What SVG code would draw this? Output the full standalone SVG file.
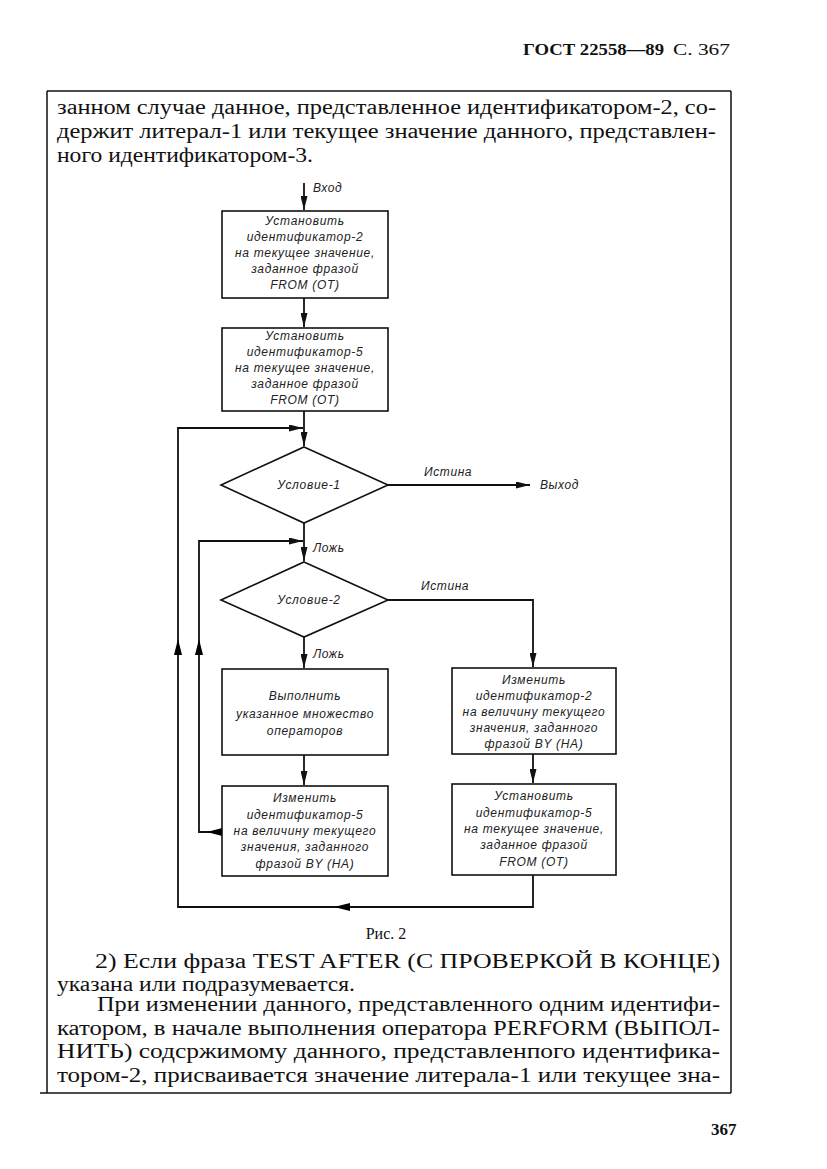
<svg xmlns="http://www.w3.org/2000/svg" width="827" height="1169" viewBox="0 0 827 1169">
<defs>
<marker id="ah" viewBox="0 0 14 7" refX="14" refY="3.5" markerWidth="14" markerHeight="7" markerUnits="userSpaceOnUse" orient="auto">
<path d="M0,0 L14,3.5 L0,7 z" fill="#111"/>
</marker>
</defs>
<style>
.pg{font-family:"Liberation Serif",serif;fill:#111}
.fc{font-family:"Liberation Sans","DejaVu Sans",sans-serif;font-style:italic;font-size:12px;letter-spacing:0.7px;fill:#222;text-anchor:middle}
.lb{font-family:"Liberation Sans","DejaVu Sans",sans-serif;font-style:italic;font-size:12px;letter-spacing:0.6px;fill:#222}
.box{fill:#fff;stroke:#111;stroke-width:1.6}
.ln{fill:none;stroke:#111;stroke-width:1.8}
.fr{fill:none;stroke:#111;stroke-width:1.5}
.hd{fill:#000}
</style>
<rect width="827" height="1169" fill="#fff"/>
<!-- header -->
<text class="pg" x="523" y="55" font-size="17" font-weight="bold" textLength="141" lengthAdjust="spacingAndGlyphs">ГОСТ 22558—89</text>
<text class="pg" x="673" y="55" font-size="17" textLength="57" lengthAdjust="spacingAndGlyphs">С. 367</text>
<!-- frame -->
<path class="fr" d="M47,91 H731 M47,91 V1093 M731,91 V1093 M40,1093 H731"/>
<!-- top text -->
<g class="pg" font-size="20">
<text x="57" y="114" textLength="659" lengthAdjust="spacingAndGlyphs">занном случае данное, представленное идентификатором-2,  со-</text>
<text x="57" y="138" textLength="659" lengthAdjust="spacingAndGlyphs">держит литерал-1 или текущее значение данного, представлен-</text>
<text x="57" y="162" textLength="256" lengthAdjust="spacingAndGlyphs">ного идентификатором-3.</text>
</g>
<!-- connectors -->
<g id="connectors">
<path class="ln" d="M304,183 V210" marker-end="url(#ah)"/>
<path class="ln" d="M304,298 V327" marker-end="url(#ah)"/>
<path class="ln" d="M304,411 V446" marker-end="url(#ah)"/>
<path class="ln" d="M388,485 H530" marker-end="url(#ah)"/>
<path class="ln" d="M304,523 V561" marker-end="url(#ah)"/>
<path class="ln" d="M388,600 H533 V667" marker-end="url(#ah)"/>
<path class="ln" d="M304,637 V668" marker-end="url(#ah)"/>
<path class="ln" d="M304,755 V785" marker-end="url(#ah)"/>
<path class="ln" d="M533,754 V783" marker-end="url(#ah)"/>
<!-- inner loop -->
<path class="ln" d="M222,832 H199 V541 H303" marker-end="url(#ah)"/>
<polygon class="hd" points="207,832 222,828 222,836"/>
<polygon class="hd" points="199,639 195,655 203,655"/>
<!-- outer loop -->
<path class="ln" d="M533,875 V907 H178 V428 H303" marker-end="url(#ah)"/>
<polygon class="hd" points="334,907 350,903 350,911"/>
<polygon class="hd" points="178,639 174,655 182,655"/>
<text class="lb" x="313" y="192">Вход</text>
<text class="lb" x="424" y="476">Истина</text>
<text class="lb" x="540" y="489">Выход</text>
<text class="lb" x="313" y="552">Ложь</text>
<text class="lb" x="421" y="590">Истина</text>
<text class="lb" x="313" y="658">Ложь</text>
</g>
<g id="box1">
<rect class="box" x="222" y="211" width="166" height="87"/>
<text class="fc" x="305" y="225">Установить</text>
<text class="fc" x="305" y="241">идентификатор-2</text>
<text class="fc" x="305" y="257">на текущее значение,</text>
<text class="fc" x="305" y="273">заданное фразой</text>
<text class="fc" x="305" y="289">FROM (ОТ)</text>
</g>
<g id="box2">
<rect class="box" x="222" y="328" width="166" height="83"/>
<text class="fc" x="305" y="340">Установить</text>
<text class="fc" x="305" y="356">идентификатор-5</text>
<text class="fc" x="305" y="372">на текущее значение,</text>
<text class="fc" x="305" y="388">заданное фразой</text>
<text class="fc" x="305" y="404">FROM (ОТ)</text>
</g>
<g id="cond1">
<path class="box" d="M304,447 L388,485 L304,523 L221,485 Z"/>
<text class="fc" x="309" y="489">Условие-1</text>
</g>
<g id="cond2">
<path class="box" d="M304,562 L388,600 L304,637 L221,600 Z"/>
<text class="fc" x="309" y="604">Условие-2</text>
</g>
<g id="box3">
<rect class="box" x="222" y="669" width="166" height="86"/>
<text class="fc" x="305" y="700">Выполнить</text>
<text class="fc" x="305" y="718">указанное множество</text>
<text class="fc" x="305" y="735">операторов</text>
</g>
<g id="box4">
<rect class="box" x="452" y="668" width="164" height="86"/>
<text class="fc" x="534" y="684">Изменить</text>
<text class="fc" x="534" y="700">идентификатор-2</text>
<text class="fc" x="534" y="716">на величину текущего</text>
<text class="fc" x="534" y="732">значения, заданного</text>
<text class="fc" x="534" y="748">фразой BY (НА)</text>
</g>
<g id="box5">
<rect class="box" x="222" y="786" width="166" height="90"/>
<text class="fc" x="305" y="802">Изменить</text>
<text class="fc" x="305" y="819">идентификатор-5</text>
<text class="fc" x="305" y="835">на величину текущего</text>
<text class="fc" x="305" y="851">значения, заданного</text>
<text class="fc" x="305" y="868">фразой BY (НА)</text>
</g>
<g id="box6">
<rect class="box" x="452" y="784" width="164" height="91"/>
<text class="fc" x="534" y="800">Установить</text>
<text class="fc" x="534" y="817">идентификатор-5</text>
<text class="fc" x="534" y="833">на текущее значение,</text>
<text class="fc" x="534" y="849">заданное фразой</text>
<text class="fc" x="534" y="866">FROM (ОТ)</text>
</g>
<!-- caption and bottom text -->
<text class="pg" x="386" y="939" font-size="16" text-anchor="middle">Рис. 2</text>
<g class="pg" font-size="20">
<text x="95" y="968" textLength="625" lengthAdjust="spacingAndGlyphs">2) Если фраза TEST AFTER  (С ПРОВЕРКОЙ В КОНЦЕ)</text>
<text x="57" y="991" textLength="298" lengthAdjust="spacingAndGlyphs">указана или подразумевается.</text>
<text x="97" y="1011" textLength="623" lengthAdjust="spacingAndGlyphs">При изменении данного,  представленного одним идентифи-</text>
<text x="57" y="1035" textLength="663" lengthAdjust="spacingAndGlyphs">катором, в начале выполнения оператора PERFORM (ВЫПОЛ-</text>
<text x="57" y="1058" textLength="663" lengthAdjust="spacingAndGlyphs">НИТЬ) содсржимому  данного,  представленпого  идентифика-</text>
<text x="57" y="1082" textLength="663" lengthAdjust="spacingAndGlyphs">тором-2,  присваивается  значение литерала-1 или текущее зна-</text>
</g>
<text class="pg" x="711" y="1135" font-size="17" font-weight="bold">367</text>
</svg>
